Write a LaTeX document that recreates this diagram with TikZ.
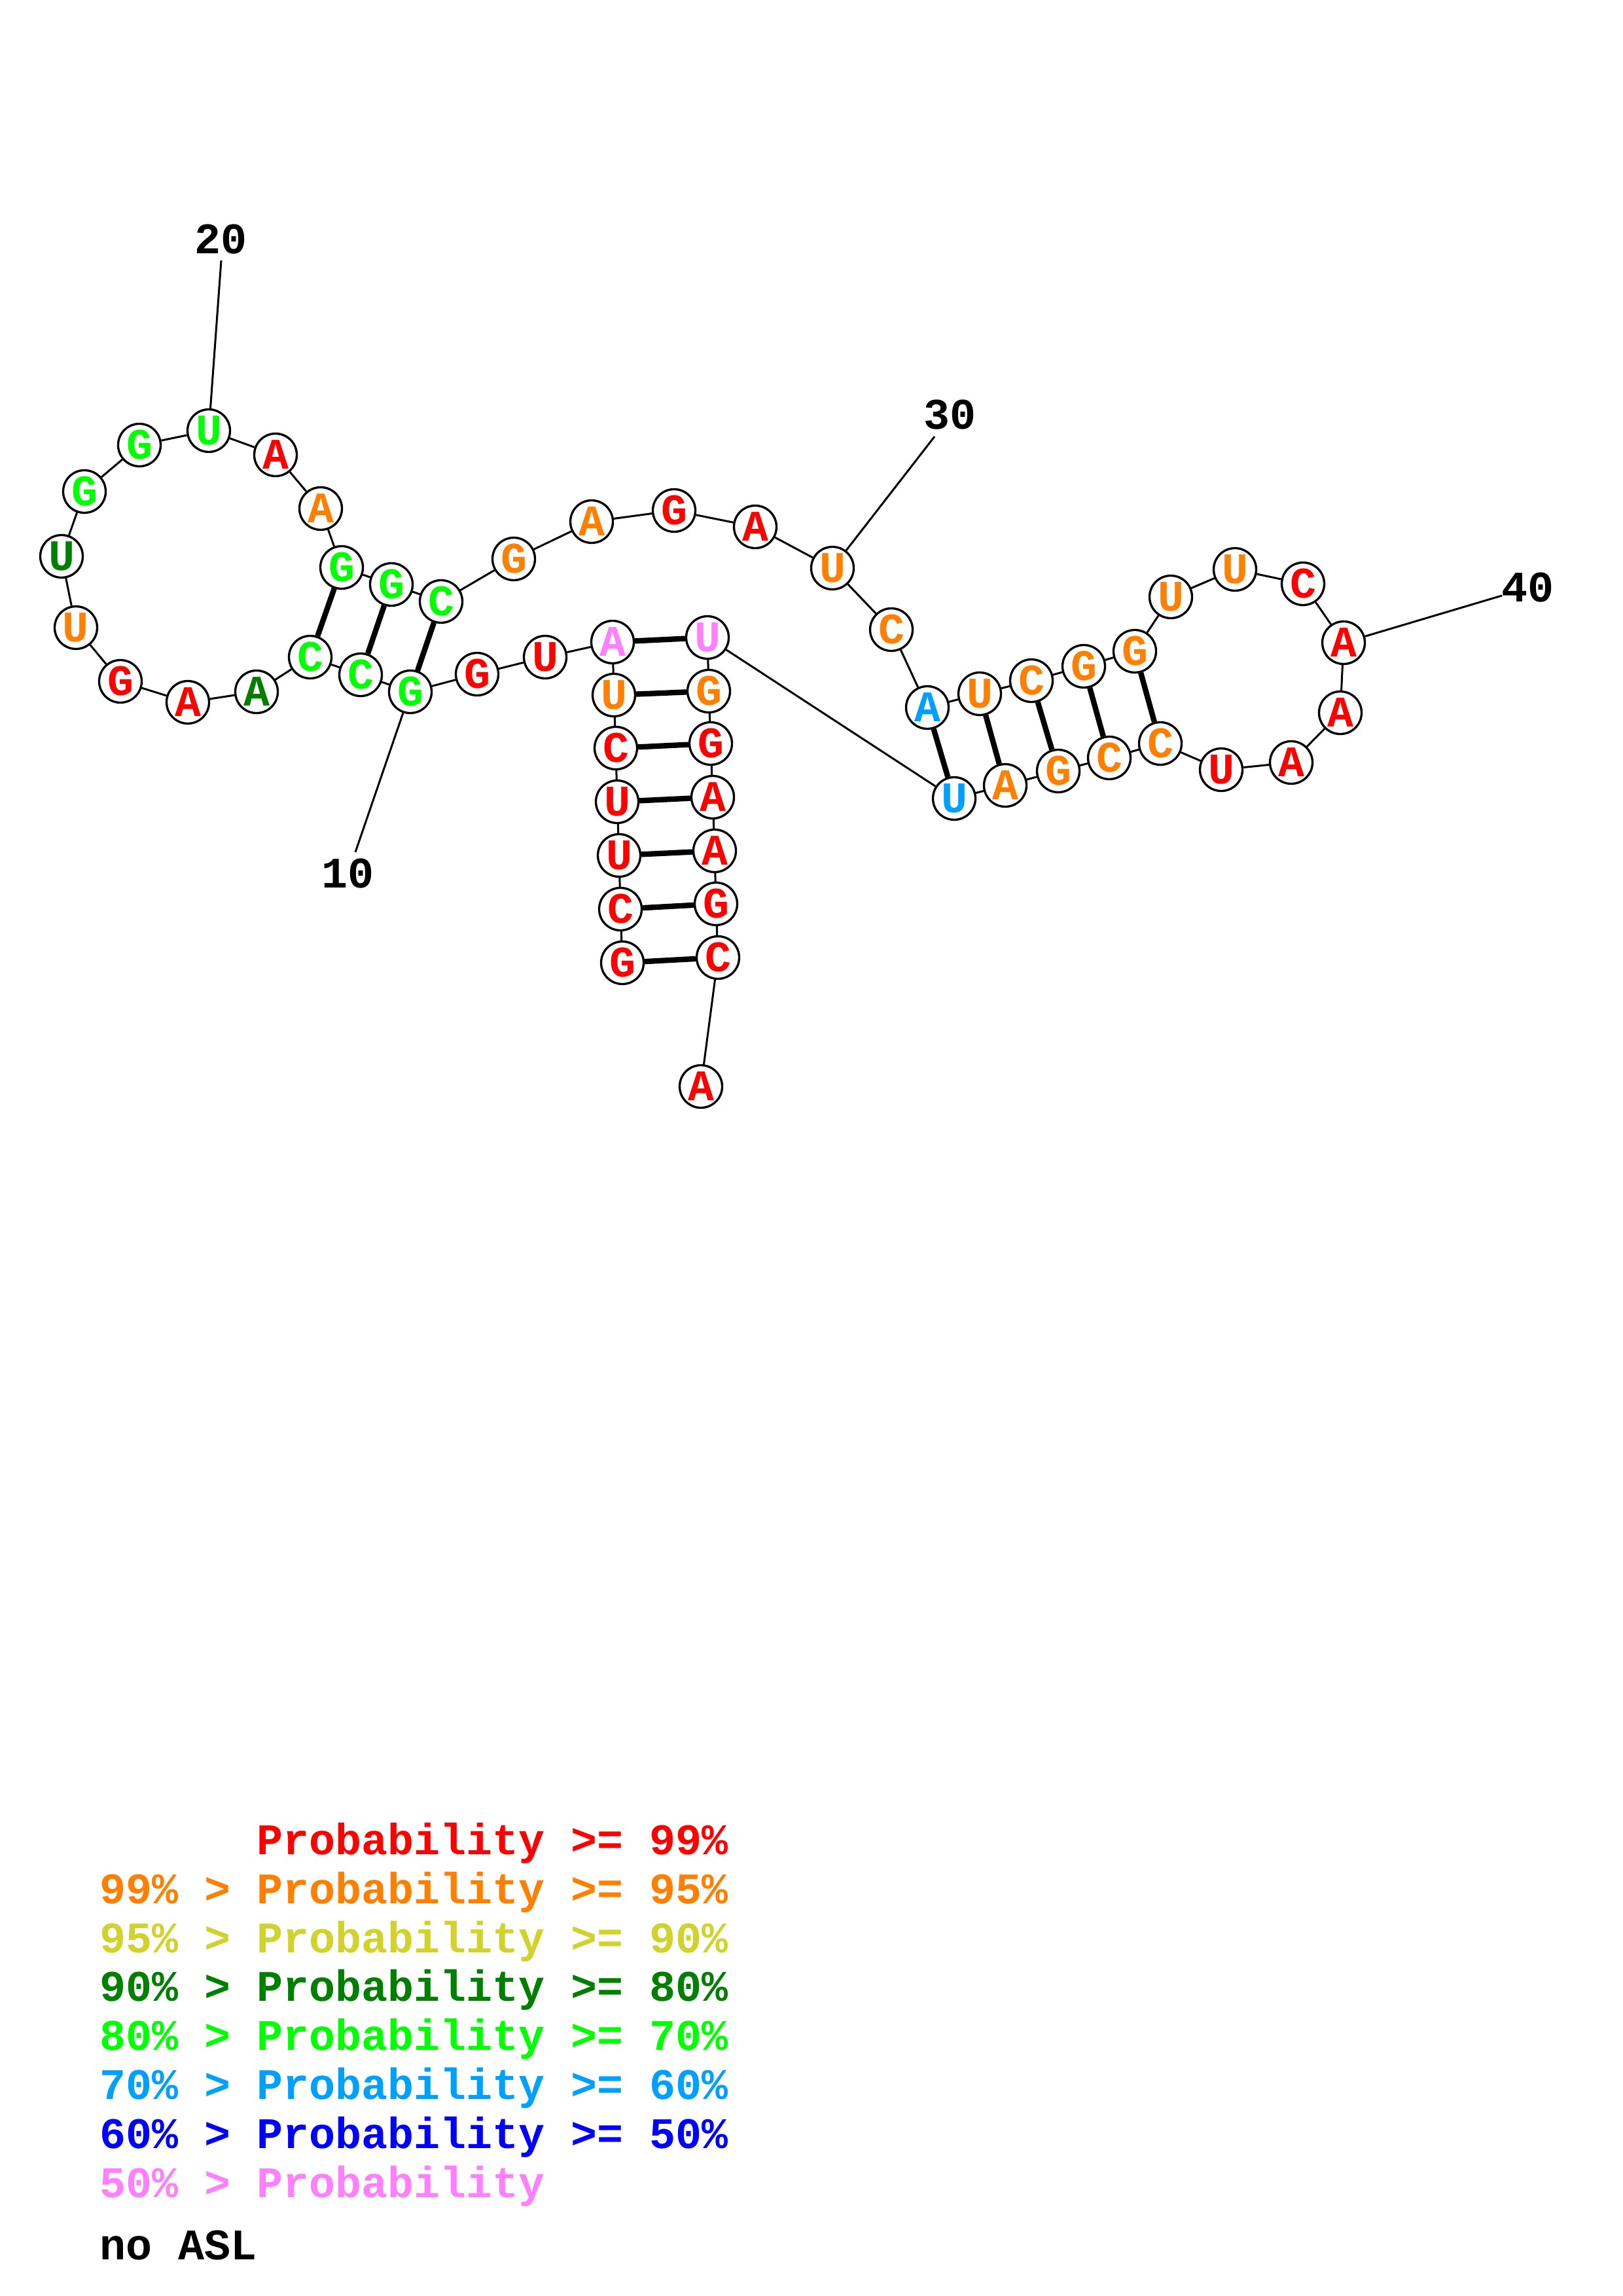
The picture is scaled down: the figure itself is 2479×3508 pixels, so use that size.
\documentclass[tikz,border=0pt]{standalone}
\usepackage{fontspec}
\setmainfont{Liberation Mono}
\definecolor{cR}{RGB}{255,0,0}
\definecolor{cO}{RGB}{255,128,0}
\definecolor{cY}{RGB}{210,210,45}
\definecolor{cD}{RGB}{0,128,0}
\definecolor{cG}{RGB}{0,255,0}
\definecolor{cC}{RGB}{0,160,255}
\definecolor{cB}{RGB}{0,0,255}
\definecolor{cP}{RGB}{255,128,255}
\newcommand\rnafont{\fontsize{16}{16}\selectfont\bfseries}
\tikzset{
  nt/.style={circle, draw=black, line width=0.8pt, fill=white, minimum size=15.6pt, inner sep=0pt, font=\rnafont},
  bb/.style={line width=0.72pt},
  bp/.style={line width=2pt},
  lbl/.style={font=\rnafont, text=black, inner sep=0pt},
  lg/.style={font=\rnafont, anchor=base west, inner sep=0pt}
}
\begin{document}
\begin{tikzpicture}[x=0.24pt,y=-0.24pt]
\useasboundingbox[fill=white] (0,0) rectangle (2479,3508);
% nucleotides
\node[nt,text=cR] (n1) at (951,1471) {G};
\node[nt,text=cR] (n2) at (948,1389) {C};
\node[nt,text=cR] (n3) at (946,1307) {U};
\node[nt,text=cR] (n4) at (943,1225) {U};
\node[nt,text=cR] (n5) at (941,1143) {C};
\node[nt,text=cO] (n6) at (938,1062) {U};
\node[nt,text=cP] (n7) at (936,981) {A};
\node[nt,text=cR] (n8) at (833,1004) {U};
\node[nt,text=cR] (n9) at (729,1030) {G};
\node[nt,text=cG] (n10) at (627,1057) {G};
\node[nt,text=cG] (n11) at (551,1031) {C};
\node[nt,text=cG] (n12) at (474,1004) {C};
\node[nt,text=cD] (n13) at (392,1057) {A};
\node[nt,text=cR] (n14) at (287,1073) {A};
\node[nt,text=cR] (n15) at (184,1041) {G};
\node[nt,text=cO] (n16) at (116,959) {U};
\node[nt,text=cD] (n17) at (94,850) {U};
\node[nt,text=cG] (n18) at (129,751) {G};
\node[nt,text=cG] (n19) at (213,680) {G};
\node[nt,text=cG] (n20) at (319,658) {U};
\node[nt,text=cR] (n21) at (421,695) {A};
\node[nt,text=cO] (n22) at (490,777) {A};
\node[nt,text=cG] (n23) at (522,867) {G};
\node[nt,text=cG] (n24) at (598,893) {G};
\node[nt,text=cG] (n25) at (674,919) {C};
\node[nt,text=cO] (n26) at (785,854) {G};
\node[nt,text=cO] (n27) at (904,797) {A};
\node[nt,text=cR] (n28) at (1030,780) {G};
\node[nt,text=cR] (n29) at (1154,805) {A};
\node[nt,text=cO] (n30) at (1272,868) {U};
\node[nt,text=cO] (n31) at (1362,962) {C};
\node[nt,text=cC] (n32) at (1417,1081) {A};
\node[nt,text=cO] (n33) at (1497,1060) {U};
\node[nt,text=cO] (n34) at (1576,1040) {C};
\node[nt,text=cO] (n35) at (1656,1018) {G};
\node[nt,text=cO] (n36) at (1734,995) {G};
\node[nt,text=cO] (n37) at (1789,912) {U};
\node[nt,text=cO] (n38) at (1887,870) {U};
\node[nt,text=cR] (n39) at (1991,892) {C};
\node[nt,text=cR] (n40) at (2053,982) {A};
\node[nt,text=cR] (n41) at (2048,1089) {A};
\node[nt,text=cR] (n42) at (1973,1165) {A};
\node[nt,text=cR] (n43) at (1866,1176) {U};
\node[nt,text=cO] (n44) at (1773,1136) {C};
\node[nt,text=cO] (n45) at (1695,1158) {C};
\node[nt,text=cO] (n46) at (1617,1178) {G};
\node[nt,text=cO] (n47) at (1536,1200) {A};
\node[nt,text=cC] (n48) at (1458,1220) {U};
\node[nt,text=cP] (n49) at (1081,974) {U};
\node[nt,text=cO] (n50) at (1083,1056) {G};
\node[nt,text=cR] (n51) at (1086,1136) {G};
\node[nt,text=cR] (n52) at (1089,1218) {A};
\node[nt,text=cR] (n53) at (1092,1300) {A};
\node[nt,text=cR] (n54) at (1094,1381) {G};
\node[nt,text=cR] (n55) at (1097,1463) {C};
\node[nt,text=cR] (n56) at (1071,1660) {A};
% backbone
\foreach \a/\b in {1/2,2/3,3/4,4/5,5/6,6/7,7/8,8/9,9/10,10/11,11/12,12/13,13/14,14/15,15/16,16/17,17/18,18/19,19/20,20/21,21/22,22/23,23/24,24/25,25/26,26/27,27/28,28/29,29/30,30/31,31/32,32/33,33/34,34/35,35/36,36/37,37/38,38/39,39/40,40/41,41/42,42/43,43/44,44/45,45/46,46/47,47/48,48/49,49/50,50/51,51/52,52/53,53/54,54/55,55/56}
  \draw[bb] (n\a) -- (n\b);
% base pairs
\foreach \a/\b in {1/55,2/54,3/53,4/52,5/51,6/50,7/49,10/25,11/24,12/23,32/48,33/47,34/46,35/45,36/44}
  \draw[bp] (n\a) -- (n\b);
% numbering
\coordinate (t10) at (543,1302);
\coordinate (t20) at (338,398);
\coordinate (t30) at (1428,667);
\coordinate (t40) at (2295,910);
\draw[bb] (n10) -- (t10);
\draw[bb] (n20) -- (t20);
\draw[bb] (n30) -- (t30);
\draw[bb] (n40) -- (t40);
\node[lbl,anchor=base] (l10) at (531,1356) {10};
\node[lbl,anchor=base] (l20) at (338,388) {20};
\node[lbl,anchor=base] (l30) at (1451,656) {30};
\node[lbl,anchor=base] (l40) at (2334,920) {40};
% legend
\node[lg,text=cR] (g1) at (392,2833) {Probability >= 99\%};
\node[lg,text=cO] (g2) at (152,2908) {99\% > Probability >= 95\%};
\node[lg,text=cY] (g3) at (152,2983) {95\% > Probability >= 90\%};
\node[lg,text=cD] (g4) at (152,3057) {90\% > Probability >= 80\%};
\node[lg,text=cG] (g5) at (152,3132) {80\% > Probability >= 70\%};
\node[lg,text=cC] (g6) at (152,3207) {70\% > Probability >= 60\%};
\node[lg,text=cB] (g7) at (152,3282) {60\% > Probability >= 50\%};
\node[lg,text=cP] (g8) at (152,3357) {50\% > Probability};
\node[lg,text=black] (g9) at (152,3452) {no ASL};
\end{tikzpicture}
\end{document}
